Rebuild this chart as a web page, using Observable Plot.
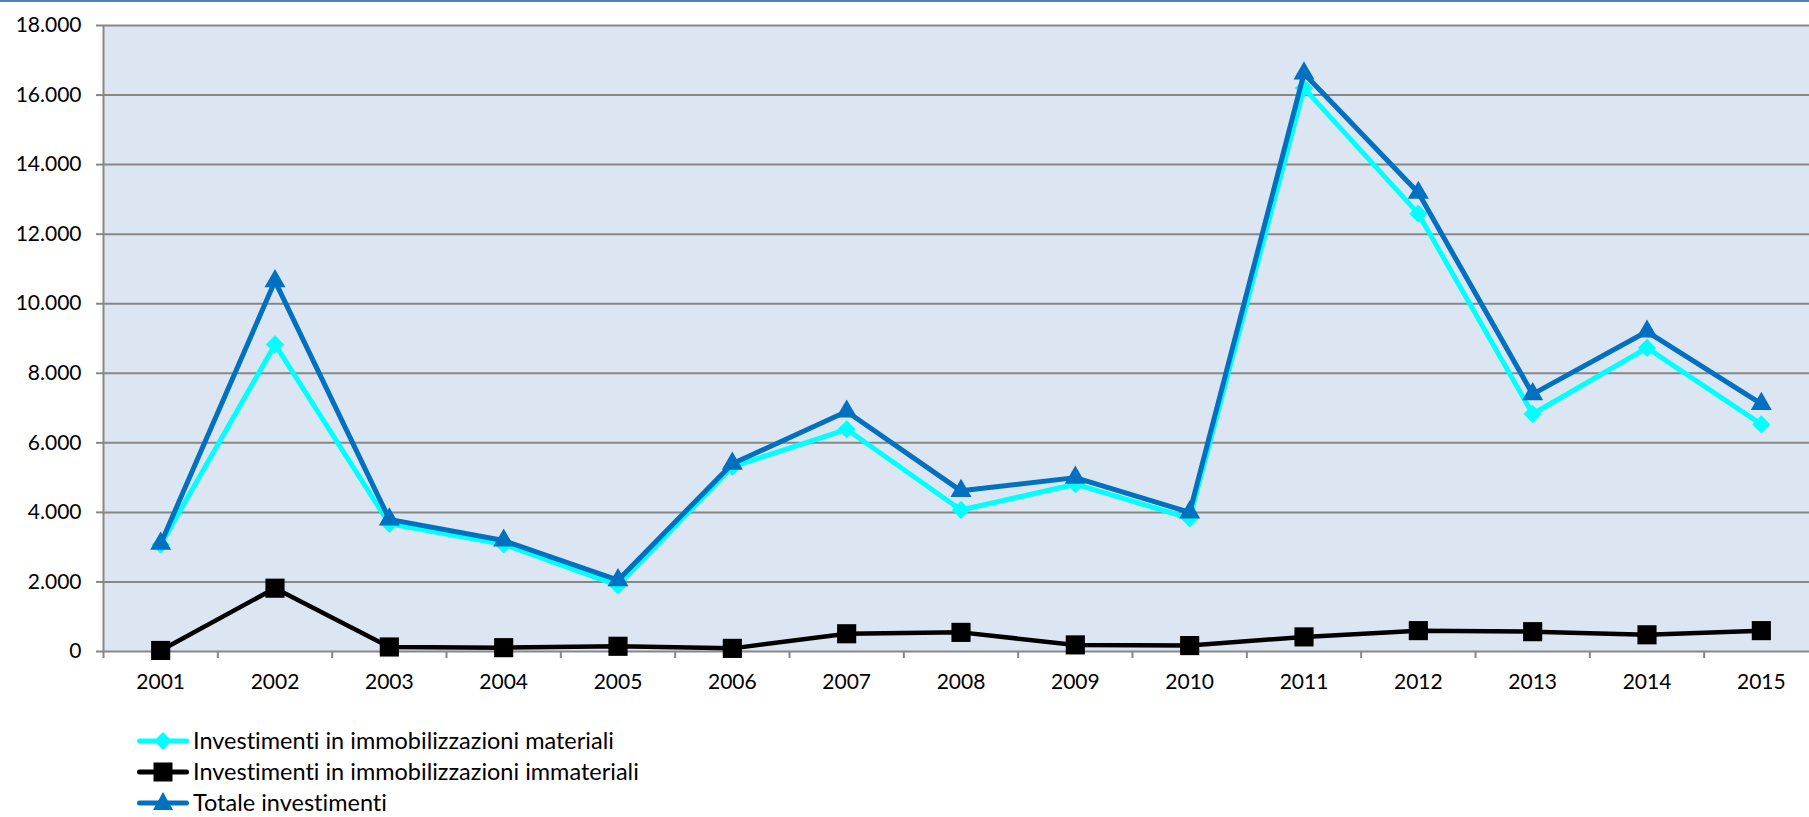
<!DOCTYPE html>
<html>
<head>
<meta charset="utf-8">
<script src="https://cdn.jsdelivr.net/npm/d3@7"></script>
<script src="https://cdn.jsdelivr.net/npm/@observablehq/plot@0.6"></script>
<style>
  html, body { margin: 0; padding: 0; background: #fff; overflow: hidden; width: 1809px; height: 817px; }
  #topline { position: absolute; left: 0; top: 0; width: 1809px; height: 2px; background: #4F81BD; }
  #chart { position: absolute; left: 0; top: 0; }
  #chart svg text { font-variant-ligatures: none; }
  #legend { position: absolute; left: 137px; top: 725px; font-family: Lato, sans-serif; font-size: 23.5px; line-height: 1; color: #000; font-variant-ligatures: none; }
  .row { display: flex; align-items: center; height: 31px; }
  .row svg { margin-right: 4px; }
</style>
</head>
<body>
<div id="chart"></div>
<div id="topline"></div>
<div id="legend"></div>
<script>
// ---- data ----
const years = [2001, 2002, 2003, 2004, 2005, 2006, 2007, 2008, 2009, 2010, 2011, 2012, 2013, 2014, 2015];
const materiali   = [3070, 8830, 3670, 3080, 1900, 5310, 6390, 4070, 4810, 3830, 16200, 12590, 6830, 8730, 6530];
const immateriali = [30, 1820, 130, 110, 150, 90, 510, 550, 190, 170, 420, 600, 570, 480, 600];
const totale      = [3100, 10650, 3800, 3190, 2050, 5400, 6900, 4620, 5000, 4000, 16620, 13190, 7400, 9200, 7120];
const yTicks = [0, 2000, 4000, 6000, 8000, 10000, 12000, 14000, 16000, 18000];
const seriesNames = [
  "Investimenti in immobilizzazioni materiali",
  "Investimenti in immobilizzazioni immateriali",
  "Totale investimenti"
];
const seriesColors = ["#00FFFF", "#000000", "#0070C0"];

const it = d3.formatLocale({decimal: ",", thousands: ".", grouping: [3], currency: ["€", ""]});
const fmt = it.format(",");

const dMat = years.map((y, i) => ({year: y, value: materiali[i]}));
const dImm = years.map((y, i) => ({year: y, value: immateriali[i]}));
const dTot = years.map((y, i) => ({year: y, value: totale[i]}));
const boundaries = years.map(y => y - 0.5).concat([years[years.length - 1] + 0.5]);

const grey = "#878787";
const H = 700;

const chart = Plot.plot({
  width: 1809,
  height: H,
  marginLeft: 103,
  marginRight: -9,
  marginTop: 25,
  marginBottom: H - 651,
  style: {fontFamily: "Lato, sans-serif", fontSize: "21px", color: "#000", background: "transparent", overflow: "visible"},
  x: {type: "linear", domain: [years[0] - 0.5, years[years.length - 1] + 0.5]},
  y: {domain: [0, 18000]},
  marks: [
    Plot.frame({fill: "#DCE6F2", stroke: null}),
    Plot.gridY(yTicks, {stroke: grey, strokeOpacity: 1, strokeWidth: 2}),
    Plot.ruleX([years[0] - 0.5], {stroke: grey, strokeWidth: 2}),
    Plot.axisY(yTicks, {tickSize: 7, tickPadding: 15, tickFormat: fmt, stroke: grey, strokeWidth: 2, fill: "#000", fontSize: 21, label: null}),
    Plot.axisX(boundaries, {tickSize: 7, tickFormat: () => "", stroke: grey, strokeWidth: 2, label: null}),
    Plot.axisX(years, {tickSize: 0, tickPadding: 23, tickFormat: d => String(d), fill: "#000", fontSize: 21, label: null}),
    Plot.line(dMat, {x: "year", y: "value", stroke: seriesColors[0], strokeWidth: 5}),
    Plot.dot(dMat, {x: "year", y: "value", symbol: "diamond2", r: 8.2, fill: seriesColors[0], stroke: null}),
    Plot.line(dImm, {x: "year", y: "value", stroke: seriesColors[1], strokeWidth: 4.5}),
    Plot.dot(dImm, {x: "year", y: "value", symbol: "square", r: 10.8, fill: seriesColors[1], stroke: null}),
    Plot.line(dTot, {x: "year", y: "value", stroke: seriesColors[2], strokeWidth: 5}),
    Plot.dot(dTot, {x: "year", y: "value", symbol: "triangle", r: 7.8, fill: seriesColors[2], stroke: null})
  ]
});
document.getElementById("chart").appendChild(chart);

// ---- legend ----
const legend = document.getElementById("legend");
const symbols = ["diamond", "square", "triangle"];
seriesNames.forEach((name, i) => {
  const row = document.createElement("div");
  row.className = "row";
  const c = seriesColors[i];
  let marker = "";
  if (symbols[i] === "diamond") marker = `<path d="M26,19 L35,28 L26,37 L17,28 Z" fill="${c}"/>`;
  if (symbols[i] === "square") marker = `<rect x="16.5" y="18.5" width="19" height="19" fill="${c}"/>`;
  if (symbols[i] === "triangle") marker = `<path d="M26,17 L36,35 L16,35 Z" fill="${c}"/>`;
  row.innerHTML = `<svg width="52" height="56" viewBox="0 0 52 56" style="margin-top:-12px;margin-bottom:-12px;flex:none"><line x1="2.5" y1="28" x2="49.5" y2="28" stroke="${c}" stroke-width="5" stroke-linecap="round"/>${marker}</svg><span>${name}</span>`;
  legend.appendChild(row);
});
</script>
</body>
</html>
